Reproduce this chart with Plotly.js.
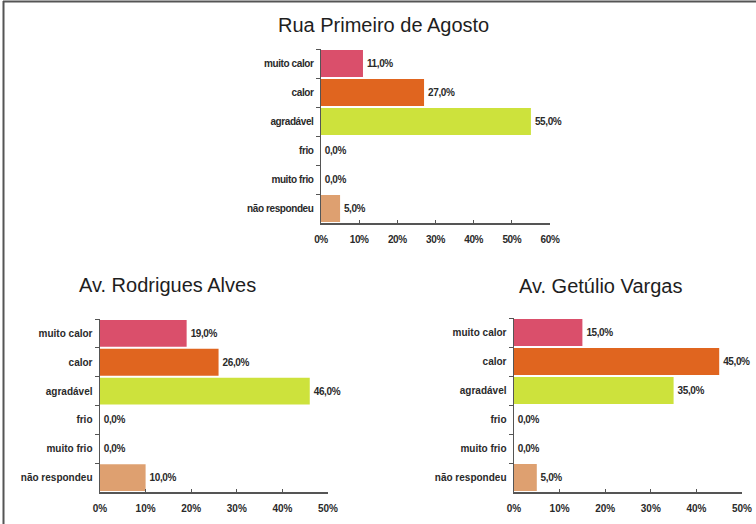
<!DOCTYPE html>
<html>
<head>
<meta charset="utf-8">
<script src="https://cdn.plot.ly/plotly-3.0.1.min.js"></script>
<style>
html,body{margin:0;padding:0;background:#fff;}
#chart{width:756px;height:524px;}
#chart .xtick text, #chart .ytick text, #chart .bartext {letter-spacing:-0.4px;}
</style>
</head>
<body>
<div id="chart"></div>
<script>
const categories = ["muito calor", "calor", "agradável", "frio", "muito frio", "não respondeu"];
const barColors = ["#da4f6b", "#e0651f", "#cde23c", "#cde23c", "#cde23c", "#dea070"];
const titles = ["Rua Primeiro de Agosto", "Av. Rodrigues Alves", "Av. Getúlio Vargas"];
const ruaPrimeiro = [11, 27, 55, 0, 0, 5];
const rodriguesAlves = [19, 26, 46, 0, 0, 10];
const getulioVargas = [15, 45, 35, 0, 0, 5];
const xMax = [60, 50, 50];

const W = 756, H = 524;
const px = v => v / W;
const py = v => 1 - v / H;

const tickFont = {family: "Liberation Sans, Arial, sans-serif", size: 10, color: "#2a2a2a", weight: 700};
const series = [ruaPrimeiro, rodriguesAlves, getulioVargas];
const boxes = [
  {x0: 321, x1: 550, y0: 49, y1: 223},
  {x0: 100, x1: 328, y0: 319, y1: 492},
  {x0: 514, x1: 742, y0: 318, y1: 492}
];
const titlePos = [[383, 25], [167, 285], [600, 286]];

const traces = series.map((vals, i) => ({
  type: "bar",
  orientation: "h",
  y: categories,
  x: vals,
  xaxis: i === 0 ? "x" : "x" + (i + 1),
  yaxis: i === 0 ? "y" : "y" + (i + 1),
  marker: {color: barColors, line: {width: 0}},
  text: vals,
  texttemplate: "%{x:.1f}%",
  textposition: "outside",
  textfont: tickFont,
  cliponaxis: false,
  hoverinfo: "skip"
}));

const layout = {
  width: W, height: H,
  margin: {l: 0, r: 0, t: 0, b: 0},
  paper_bgcolor: "#fff", plot_bgcolor: "#fff",
  showlegend: false,
  separators: ",.",
  bargap: 0.07,
  annotations: titles.map((t, i) => ({
    text: t, xref: "paper", yref: "paper",
    x: px(titlePos[i][0]), y: py(titlePos[i][1]),
    xanchor: "center", yanchor: "middle", showarrow: false,
    font: {family: "Liberation Sans, Arial, sans-serif", size: 20, color: "#1e1e1e"}
  })),
  shapes: [
    {type: "line", xref: "paper", yref: "paper", x0: px(3), x1: 1, y0: py(1.5), y1: py(1.5), line: {color: "#555", width: 2}},
    {type: "line", xref: "paper", yref: "paper", x0: px(3.5), x1: px(3.5), y0: py(1), y1: 0, line: {color: "#555", width: 2}}
  ]
};

boxes.forEach((b, i) => {
  const s = i === 0 ? "" : String(i + 1);
  layout["xaxis" + s] = {
    domain: [px(b.x0), px(b.x1)],
    anchor: "y" + s,
    range: [0, xMax[i]],
    dtick: 10, ticksuffix: "%",
    showgrid: false, zeroline: false,
    showline: true, linecolor: "#555", linewidth: 1.5,
    ticks: "inside", ticklen: 3, tickcolor: "#555",
    ticklabelstandoff: 6,
    tickfont: tickFont, fixedrange: true
  };
  layout["yaxis" + s] = {
    domain: [py(b.y1), py(b.y0)],
    anchor: "x" + s,
    type: "category",
    autorange: "reversed",
    showgrid: false, zeroline: false,
    showline: true, linecolor: "#555", linewidth: 1.5,
    ticks: "outside", tickson: "boundaries", ticklen: 4, tickcolor: "#555",
    ticklabelstandoff: 4,
    tickfont: tickFont, fixedrange: true
  };
});

Plotly.newPlot("chart", traces, layout, {displayModeBar: false, staticPlot: true});
</script>
</body>
</html>
